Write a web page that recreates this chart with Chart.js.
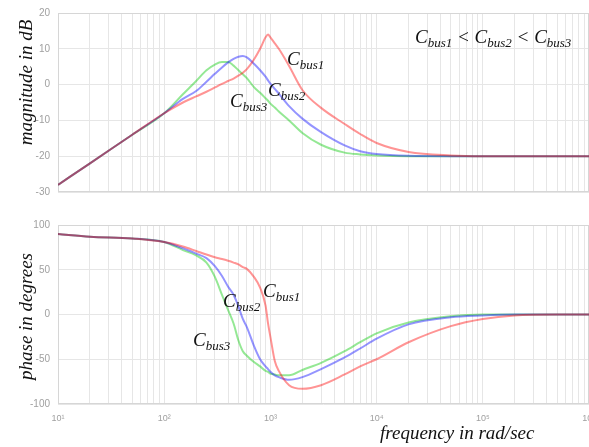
<!DOCTYPE html>
<html>
<head>
<meta charset="utf-8">
<script src="https://cdn.jsdelivr.net/npm/chart.js@4.4.0/dist/chart.umd.min.js"></script>
<style>
  body { margin: 0; background: #fff; }
  #wrap { position: relative; width: 589px; height: 447px; overflow: hidden; font-family: "Liberation Serif", serif; font-style: italic; color: #111; }
  canvas { position: absolute; left: 0; }
  .lbl { position: absolute; font-size: 19px; line-height: 1; white-space: nowrap; }
  .lbl sub { font-size: 13px; vertical-align: baseline; position: relative; top: 4px; }
  .ytitle { position: absolute; width: 200px; height: 19px; font-size: 19px; line-height: 1; text-align: center; white-space: nowrap; transform: rotate(-90deg); }
</style>
</head>
<body>
<div id="wrap">
  <canvas id="magChart" width="589" height="200" style="top:0"></canvas>
  <canvas id="phaseChart" width="589" height="247" style="top:200px"></canvas>

  <div class="ytitle" style="left:-75px; top:73px;">magnitude in dB</div>
  <div class="ytitle" style="left:-75px; top:307px;">phase in degrees</div>

  <div class="lbl" style="left:415px; top:27px;">C<sub>bus1</sub> &lt; C<sub>bus2</sub> &lt; C<sub>bus3</sub></div>
  <div class="lbl" style="left:287px; top:49px;">C<sub>bus1</sub></div>
  <div class="lbl" style="left:268px; top:80px;">C<sub>bus2</sub></div>
  <div class="lbl" style="left:230px; top:91px;">C<sub>bus3</sub></div>

  <div class="lbl" style="left:263px; top:281px;">C<sub>bus1</sub></div>
  <div class="lbl" style="left:223px; top:291px;">C<sub>bus2</sub></div>
  <div class="lbl" style="left:193px; top:330px;">C<sub>bus3</sub></div>

  <div class="lbl" style="left:380px; top:423px;">frequency in rad/sec</div>
</div>

<script>
// frequency points in rad/sec
const freq = [10, 20, 50, 100, 150, 200, 250, 300, 350, 400, 450, 500, 550, 600, 700, 800, 900, 950,
              1000, 1100, 1200, 1500, 2000, 3000, 5000, 7000, 1e4, 2e4, 5e4, 1e5, 2e5, 5e5, 1e6];

// magnitude in dB
const magBus1 = [-28, -22, -14, -8, -5, -3.3, -2, -0.8, 0.2, 1, 1.7, 2.5, 3.3, 4.3, 7, 10, 13.2, 14,
                 13.2, 11.5, 10, 5.2, -1.5, -6.5, -11, -13.8, -16.3, -18.8, -19.8, -20, -20, -20, -20];
const magBus2 = [-28, -22, -14, -8, -4, -1.8, 0.8, 3, 4.8, 6.2, 7.2, 7.8, 8, 7.6, 5.8, 4, 2.2, 1.2,
                 0.3, -1.2, -2.5, -6, -9.5, -13.3, -17, -18.6, -19.4, -19.9, -20, -20, -20, -20, -20];
const magBus3 = [-28, -22, -14, -8, -2.7, 1, 4, 5.6, 6.3, 6.3, 5.3, 4, 2.9, 1.8, -0.7, -2.3, -3.8, -4.5,
                 -5.3, -6.4, -7.5, -10, -13.5, -16.8, -19, -19.5, -19.8, -20, -20, -20, -20, -20, -20];

// phase in degrees
const phaseBus1 = [90, 87, 85, 81, 76, 71, 67, 64, 62, 60, 58, 56, 53, 51, 42, 30, 10, -10,
                   -25, -52, -63, -79, -83, -79, -67, -58, -50, -31, -13, -5, -1, 0, 0];
const phaseBus2 = [90, 87, 85, 81, 74, 68, 63, 54, 43, 31, 22, 9, -5, -14, -35, -50, -58, -61,
                   -64, -68, -70, -73, -70, -61, -48, -38, -27, -11, -3, -1, 0, 0, 0];
const phaseBus3 = [90, 87, 85, 81, 72, 66, 58, 42, 22, 5, -10, -29, -41, -46, -53, -58, -63, -64,
                   -66, -67, -68, -68, -62, -54, -41, -31, -21, -9, -2, 0, 0, 0, 0];

const magTicks = [-30, -20, -10, 0, 10, 20];
const phaseTicks = [-100, -50, 0, 50, 100];
const decadeLabels = ['10¹', '10²', '10³', '10⁴', '10⁵', '10⁶'];

const lineColors = ['rgba(255,0,0,0.42)', 'rgba(0,0,255,0.42)', 'rgba(0,200,0,0.42)'];
const gridColor = '#e6e6e6';

const frame = {
    id: 'frame',
    beforeDatasetsDraw(chart) {
        const { ctx, chartArea: a } = chart;
        ctx.save();
        ctx.strokeStyle = '#d6d6d6';
        ctx.lineWidth = 1;
        ctx.strokeRect(a.left + 0.5, a.top + 0.5, a.right - a.left - 1, a.bottom - a.top - 1);
        ctx.restore();
    }
};

function toPoints(vals) {
    return freq.map((f, i) => ({ x: f, y: vals[i] }));
}

function buildChart(id, series, yTicks, padTop, xHeight, showX) {
    new Chart(document.getElementById(id), {
        type: 'line',
        data: {
            datasets: series.map((vals, i) => ({
                data: toPoints(vals),
                borderColor: lineColors[i],
                borderWidth: 2,
                pointRadius: 0,
                cubicInterpolationMode: 'monotone',
                fill: false
            }))
        },
        options: {
            responsive: false,
            animation: false,
            devicePixelRatio: 1,
            layout: { padding: { top: padTop, left: 0, right: 0, bottom: 0 } },
            plugins: { legend: { display: false }, tooltip: { enabled: false } },
            scales: {
                x: {
                    type: 'logarithmic',
                    min: 10,
                    max: 1e6,
                    afterBuildTicks: s => {
                        const t = [];
                        for (let e = 1; e < 6; e++) {
                            for (let m = 1; m < 10; m++) t.push({ value: m * Math.pow(10, e) });
                        }
                        t.push({ value: 1e6 });
                        s.ticks = t;
                    },
                    afterFit: s => {
                        s.height = xHeight;
                        s.paddingLeft = 0;
                        s.paddingRight = 0;
                    },
                    grid: { color: gridColor, drawTicks: false },
                    border: { display: false },
                    ticks: {
                        display: showX,
                        autoSkip: false,
                        maxRotation: 0,
                        padding: 9,
                        color: '#a0a0a0',
                        font: { size: 9, family: 'Liberation Sans' },
                        callback: v => {
                            const e = Math.log10(v);
                            return Math.abs(e - Math.round(e)) < 1e-9 ? decadeLabels[Math.round(e) - 1] : '';
                        }
                    }
                },
                y: {
                    min: yTicks[0],
                    max: yTicks[yTicks.length - 1],
                    afterBuildTicks: s => { s.ticks = yTicks.map(v => ({ value: v })); },
                    afterFit: s => {
                        s.width = 58;
                        s.paddingTop = 0;
                        s.paddingBottom = 0;
                    },
                    grid: { color: gridColor, drawTicks: false },
                    border: { display: false },
                    ticks: {
                        padding: 8,
                        color: '#a0a0a0',
                        font: { size: 10, family: 'Liberation Sans' }
                    }
                }
            }
        },
        plugins: [frame]
    });
}

buildChart('magChart', [magBus1, magBus2, magBus3], magTicks, 13, 8, false);
buildChart('phaseChart', [phaseBus1, phaseBus2, phaseBus3], phaseTicks, 25, 43, true);
</script>
</body>
</html>
